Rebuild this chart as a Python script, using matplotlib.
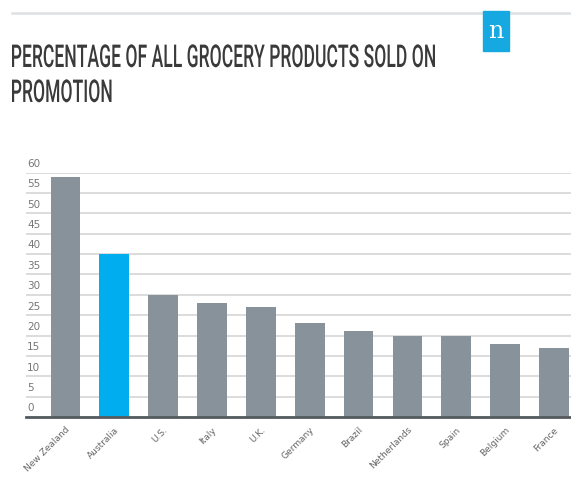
import numpy as np
import matplotlib.pyplot as plt
from matplotlib.patches import Rectangle, PathPatch
from matplotlib.textpath import TextPath
from matplotlib.font_manager import FontProperties
from matplotlib.transforms import Affine2D

# data
countries = ['New Zealand', 'Australia', 'U.S.', 'Italy', 'U.K.', 'Germany',
             'Brazil', 'Netherlands', 'Spain', 'Belgium', 'France']
share = [59, 40, 30, 28, 27, 23, 21, 20, 20, 18, 17]
highlight = 'Australia'
y_ticks = list(range(0, 61, 5))
title_lines = ['PERCENTAGE OF ALL GROCERY PRODUCTS SOLD ON', 'PROMOTION']

grey = '#87929a'
blue = '#00aeef'
W, H = 571, 478

fig = plt.figure(figsize=(W / 100, H / 100), dpi=100)

# thin rule at the top
fig.add_artist(plt.Line2D([12 / W, 1.0], [1 - 13 / H] * 2, color='#dde1e3',
                          lw=1.8, transform=fig.transFigure))

# logo square with an "n"
fig.add_artist(Rectangle((483 / W, 1 - 51 / H), 26 / W, 40 / H,
                         color='#16a9e1', transform=fig.transFigure, zorder=3))
fig.text(496 / W, 1 - 32 / H, 'n', color='white', fontsize=17, family='DejaVu Serif',
         ha='center', va='center', zorder=4)

# title in a squeezed (condensed) look: draw the glyph outlines and scale them
prop = FontProperties(family='Roboto', weight='medium')
p1 = TextPath((0, 0), title_lines[0], size=20, prop=prop)
ext = p1.get_extents()
sx = 423 / ext.width
sy = 23 / ext.height
baselines = [H - 67, H - 102]
for line, base in zip(title_lines, baselines):
    tp = TextPath((0, 0), line, size=20, prop=prop)
    e = tp.get_extents()
    tr = Affine2D().translate(-e.x0, 0).scale(sx, sy).translate(12, base)
    fig.add_artist(PathPatch(tp, transform=tr, facecolor='#3a3a3a', edgecolor='none'))

ax = fig.add_axes([26 / W, 1 - 417 / H, 545 / W, (417 - 172.7) / H])
x = np.arange(len(countries))
colors = [blue if c == highlight else grey for c in countries]
ax.bar(x, share, width=0.61, color=colors, zorder=3)

ax.set_ylim(0, 60)
ax.set_xlim(-0.81, 10.35)
ax.set_yticks(y_ticks)
ax.yaxis.grid(True, color='#dcdcdc', lw=1.4, zorder=0)
ax.tick_params(axis='y', length=0, labelleft=False)
for v in y_ticks:
    ax.text(0.002, v + 0.9, str(v), transform=ax.get_yaxis_transform(),
            fontsize=7.5, color='#777777', ha='left', va='bottom')

ax.set_xticks(x)
ax.set_xticklabels(countries, rotation=45, ha='right', rotation_mode='anchor',
                   fontsize=6.5, color='#666666')
ax.tick_params(axis='x', length=0, pad=6)

for s in ['top', 'right', 'left']:
    ax.spines[s].set_visible(False)
ax.spines['bottom'].set_color('#555a5e')
ax.spines['bottom'].set_linewidth(2)
ax.spines['bottom'].set_zorder(4)

fig.savefig('out.png', dpi=100)
